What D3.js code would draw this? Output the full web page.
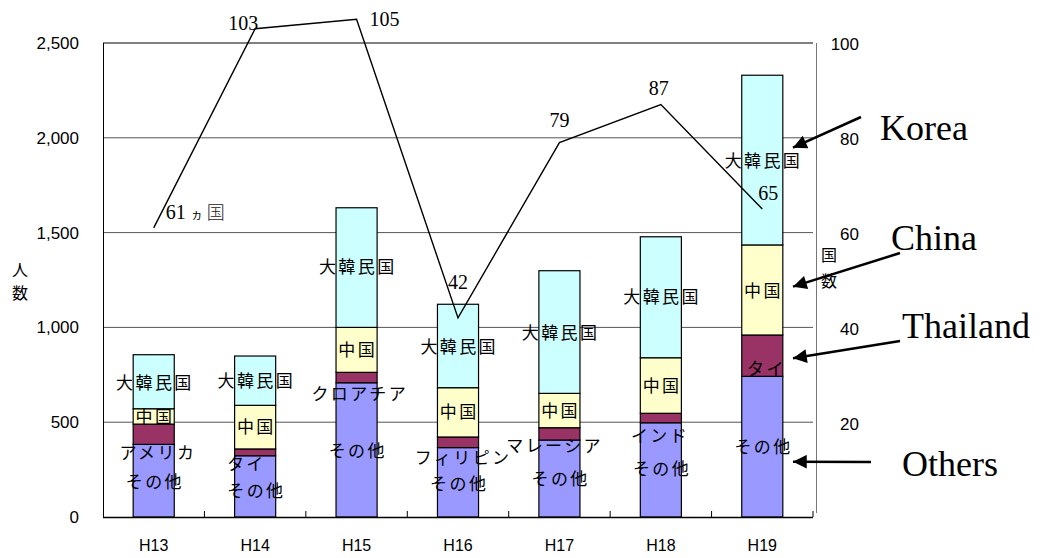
<!DOCTYPE html>
<html><head><meta charset="utf-8">
<script src="https://cdn.jsdelivr.net/npm/d3@7"></script>
<style>
body{margin:0;background:#fff;}
svg{display:block;}
</style></head>
<body>
<svg id="c" width="1048" height="558"></svg>
<script>
// ---- data ----
const years = ["H13","H14","H15","H16","H17","H18","H19"];
const others = [383, 323, 708, 366, 406, 497, 742];
const third  = [107, 36, 55, 56, 65, 50, 218];
const china  = [81, 230, 237, 260, 181, 293, 475];
const korea  = [285, 260, 631, 440, 647, 638, 895];
const thirdNames = ["アメリカ","タイ","クロアチア","フィリピン","マレーシア","インド","タイ"];
const countries = [61, 103, 105, 42, 79, 87, 65];
const leftTicks = [0, 500, 1000, 1500, 2000, 2500];
const rightTicks = [20, 40, 60, 80, 100];

// label anchor values (persons) per bar: korea, china, third, others
const lblKorea = [708, 719, 1320, 898, 969, 1162, 1879];
const lblChina = [529, 476, 881, 552, 559, 691, 1192];
const lblThird = [339, 278, 652, 314, 374, 427, 779];
const lblOther = [185, 140, 350, 174, 199, 252, 371];

const svg = d3.select("#c");
const L = 103, R = 813, T = 43, B = 517;
const x = d3.scaleBand().domain(years).range([L, R]).padding(0);
const y = d3.scaleLinear().domain([0, 2500]).range([B, T]);
const y2 = d3.scaleLinear().domain([0, 100]).range([B, T]);
const bw = x.bandwidth() * 0.405;
const cx = d => x(d) + x.bandwidth() / 2;

const numFont = "'Liberation Sans', Arial, sans-serif";
const jpFont = "'Noto Sans CJK JP', sans-serif";
const serif = "'Liberation Serif', 'DejaVu Serif', serif";

// gridlines
svg.append("g").selectAll("line").data(leftTicks.filter(v => v > 0 && v < 2500)).join("line")
  .attr("x1", L).attr("x2", R).attr("y1", d => y(d)).attr("y2", d => y(d))
  .attr("stroke", "#555").attr("stroke-width", 1);
// top border
svg.append("line").attr("x1", L).attr("x2", R).attr("y1", y(2500)).attr("y2", y(2500))
  .attr("stroke", "#000").attr("stroke-width", 1);

// left axis
const ga = svg.append("g").attr("transform", `translate(${L},0)`)
  .call(d3.axisLeft(y).tickValues(leftTicks).tickFormat(d3.format(",")).tickSize(0).tickPadding(24));
ga.select(".domain").attr("stroke", "#000");
ga.selectAll("text").attr("font-family", numFont).attr("font-size", 17).attr("fill", "#000");

// right axis
const gr = svg.append("g").attr("transform", `translate(816,0)`)
  .call(d3.axisRight(y2).tickValues(rightTicks).tickSize(0).tickPadding(43));
gr.select(".domain").attr("stroke", "#777").attr("d", `M0.5,${T}V${B-4}`);
gr.selectAll("text").attr("font-family", numFont).attr("font-size", 17).attr("fill", "#000")
  .attr("text-anchor", "end").attr("dy", "0.4em");

// stacked bars
const rows = years.map((yr, i) => ({yr, others: others[i], third: third[i], china: china[i], korea: korea[i]}));
const keys = ["others", "third", "china", "korea"];
const colors = {others: "#9999FF", third: "#993366", china: "#FFFFCC", korea: "#CCFFFF"};
const stack = d3.stack().keys(keys)(rows);
svg.append("g").selectAll("g").data(stack).join("g")
  .attr("fill", s => colors[s.key])
  .selectAll("rect").data(s => s).join("rect")
  .attr("x", d => cx(d.data.yr) - bw / 2).attr("width", bw)
  .attr("y", d => y(d[1])).attr("height", d => y(d[0]) - y(d[1]))
  .attr("stroke", "#000").attr("stroke-width", 1.2);

// bottom axis
const gb = svg.append("g").attr("transform", `translate(0,${B})`)
  .call(d3.axisBottom(x).tickSize(0).tickPadding(23));
gb.select(".domain").attr("stroke", "#000").attr("stroke-width", 1.5).attr("d", `M${L},0.5H${R}`);
gb.selectAll("text").attr("font-family", numFont).attr("font-size", 16).attr("fill", "#000");
svg.append("g").selectAll("line").data(years.slice(1).concat(["end"])).join("line")
  .attr("x1", d => d === "end" ? R : x(d)).attr("x2", d => d === "end" ? R : x(d))
  .attr("y1", B - 6).attr("y2", B).attr("stroke", "#000");
svg.append("line").attr("x1", L + 0.5).attr("x2", L + 0.5).attr("y1", T).attr("y2", B).attr("stroke", "#000");

// in-bar labels
function labels(names, vals, dx) {
  svg.append("g").selectAll("text").data(years).join("text")
    .attr("x", (d, i) => cx(d) + 1.2 + (dx ? dx[i] : 0)).attr("y", (d, i) => y(vals[i]))
    .attr("dy", "0.36em").attr("text-anchor", "middle")
    .attr("font-family", jpFont).attr("font-size", 17).attr("letter-spacing", 2.4)
    .attr("fill", "#000")
    .text((d, i) => typeof names === "string" ? names : names[i]);
}
labels("大韓民国", lblKorea);
labels("中国", lblChina);
labels(thirdNames, lblThird, [3, -10, 2, 4, -6, -2, 3]);
labels("その他", lblOther);

// country count line
const line = d3.line().x((d, i) => cx(years[i])).y(d => y2(d));
svg.append("path").datum(countries).attr("d", line)
  .attr("fill", "none").attr("stroke", "#000").attr("stroke-width", 1.4);
const clab = countries.map((v, i) => ({v, i, t: i === 0 ? v + " " : String(v)}));
const lblOff = [[12, -16], [-12, -6], [28, 0], [0, -36], [0, -23], [-2, -17], [6, -16]];
const lg = svg.append("g");
clab.forEach((d, i) => {
  const t = lg.append("text")
    .attr("x", cx(years[i]) + lblOff[i][0]).attr("y", y2(d.v) + lblOff[i][1])
    .attr("text-anchor", i === 0 ? "start" : "middle").attr("dy", "0.35em")
    .attr("font-family", serif).attr("font-size", 20).attr("fill", "#000");
  t.append("tspan").text(d.t);
  if (i === 0) {
    t.append("tspan").attr("font-family", jpFont).attr("font-size", 12).text("ヵ");
    t.append("tspan").attr("font-family", jpFont).attr("font-size", 18).attr("font-weight", 300).attr("fill", "#222").text(" 国");
  }
});

// axis titles
const titles = [{t: "人", x: 20, y: 270}, {t: "数", x: 20, y: 293}, {t: "国", x: 829, y: 255}, {t: "数", x: 829, y: 281}];
svg.append("g").selectAll("text").data(titles).join("text")
  .attr("x", d => d.x).attr("y", d => d.y).attr("dy", "0.36em").attr("text-anchor", "middle")
  .attr("font-family", jpFont).attr("font-size", 16).attr("fill", "#000").text(d => d.t);

// annotations with arrows
const annNames = ["Korea", "China", "Thailand", "Others"];
const annTipVal = [1948, 1215, 837, 292];
const annStart = [[861, 117], [900, 253], [900, 341], [871, 462]];
const annText = [[880, 127], [891, 237], [902, 325], [902, 463]];
svg.append("defs").append("marker").attr("id", "ah").attr("viewBox", "0 0 10 10")
  .attr("refX", 10).attr("refY", 5).attr("markerWidth", 6.5).attr("markerHeight", 5.5)
  .attr("markerUnits", "strokeWidth").attr("orient", "auto")
  .append("path").attr("d", "M0,0L10,5L0,10Z").attr("fill", "#000");
const tipX = R - 20;
annNames.forEach((n, i) => {
  svg.append("line").attr("x1", annStart[i][0]).attr("y1", annStart[i][1])
    .attr("x2", tipX).attr("y2", y(annTipVal[i]))
    .attr("stroke", "#000").attr("stroke-width", 2.5).attr("marker-end", "url(#ah)");
  svg.append("text").attr("x", annText[i][0]).attr("y", annText[i][1]).attr("dy", "0.35em")
    .attr("font-family", serif).attr("font-size", 36).attr("fill", "#000").text(n);
});
</script>
</body></html>
